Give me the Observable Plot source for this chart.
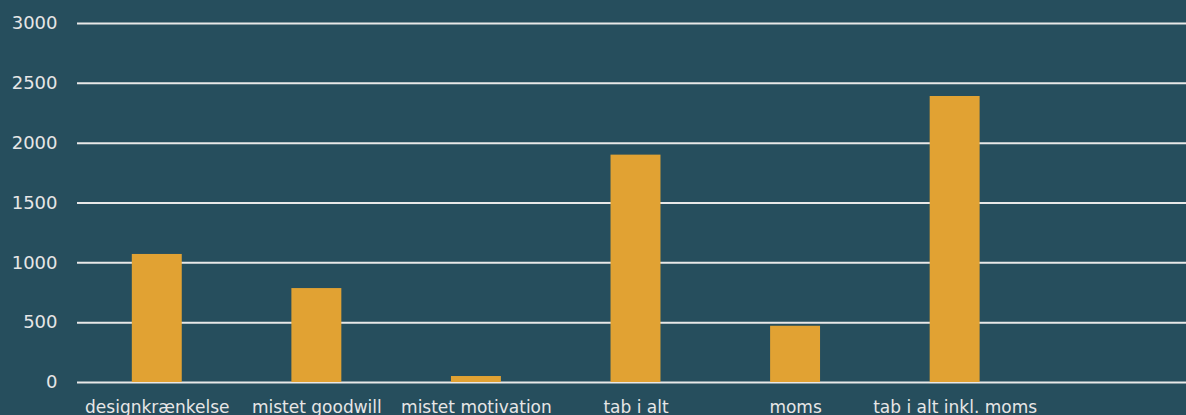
<!DOCTYPE html>
<html>
<head>
<meta charset="utf-8">
<script src="https://cdn.jsdelivr.net/npm/d3@7"></script>
<script src="https://cdn.jsdelivr.net/npm/@observablehq/plot@0.6"></script>
<style>
  html, body { margin: 0; padding: 0; background: #264e5d; overflow: hidden; }
  #chart svg { display: block; background: #264e5d; }
</style>
</head>
<body>
<div id="chart"></div>
<script>
const categories = ["designkrænkelse", "mistet goodwill", "mistet motivation", "tab i alt", "moms", "tab i alt inkl. moms"];
const values = [1070, 785, 50, 1900, 470, 2390];
const yTicks = [0, 500, 1000, 1500, 2000, 2500, 3000];

const data = categories.map((c, i) => ({category: c, value: values[i]}));
const domain = [...categories, " "]; // empty trailing slot as in the original

const chart = Plot.plot({
  width: 1186,
  height: 415,
  marginLeft: 77,
  marginRight: 0,
  marginTop: 23,
  marginBottom: 33,
  style: {background: "#264e5d", color: "#e6e6e6", fontFamily: "DejaVu Sans"},
  x: {domain, range: [77, 1194], round: false, paddingInner: 0.687, paddingOuter: 0.3435, label: null},
  y: {domain: [0, 3000], label: null},
  marks: [
    Plot.ruleY(yTicks, {stroke: "#e8e8e8", strokeWidth: 2}),
    Plot.barY(data, {x: "category", y: "value", fill: "#e1a233"}),
    Plot.axisY(yTicks, {tickSize: 0, tickPadding: 20, fontSize: 18, fill: "#e6e6e6", tickFormat: d => String(d), label: null}),
    Plot.axisX({tickSize: 0, tickPadding: 18, fontSize: 17, fill: "#e6e6e6", label: null})
  ]
});
document.getElementById("chart").appendChild(chart);
</script>
</body>
</html>
